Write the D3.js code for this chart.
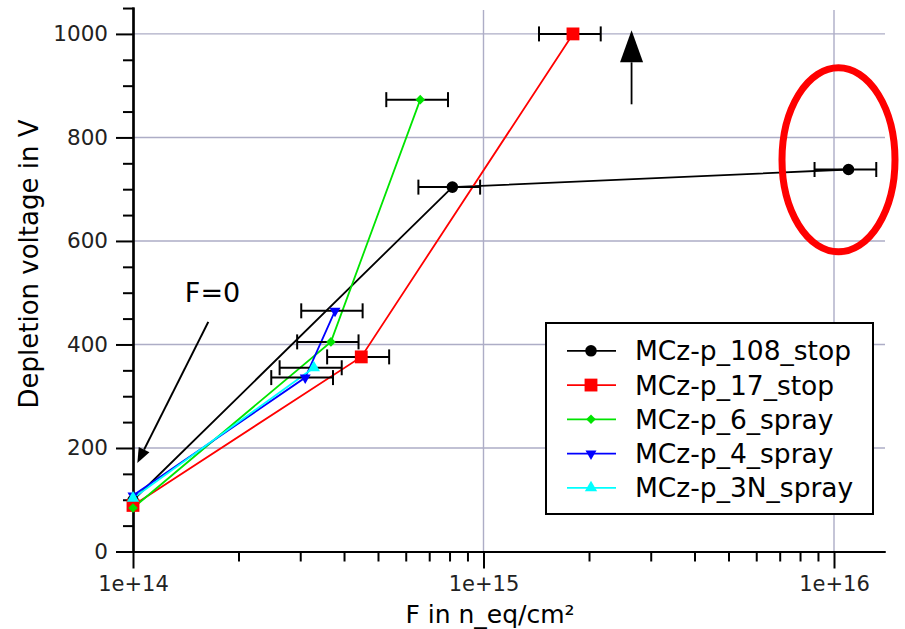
<!DOCTYPE html>
<html>
<head>
<meta charset="utf-8">
<script src="https://cdn.jsdelivr.net/npm/d3@7"></script>
<style>
  html, body { margin: 0; padding: 0; background: #fff; }
  svg { display: block; }
  text { font-family: "DejaVu Sans", Verdana, sans-serif; }
</style>
</head>
<body>
<svg id="chart" width="905" height="629"></svg>
<script>
// Depletion voltage vs. fluence for MCz-p diodes (F = 0 plotted at 1e14)
const seriesNames = ["MCz-p_108_stop", "MCz-p_17_stop", "MCz-p_6_spray", "MCz-p_4_spray", "MCz-p_3N_spray"];
const seriesColors = ["#000000", "#ff0000", "#00e400", "#0000ff", "#00ffff"];
const seriesSymbols = ["circle", "square", "diamond", "triangleDown", "triangleUp"];

const fluence108 = [1e14, 8.15e14, 1.1e16];
const voltage108 = [99, 704, 738];
const fluenceErr108 = [0, 1.63e14, 2.2e15];

const fluence17 = [1e14, 4.48e14, 1.8e15];
const voltage17 = [89, 376, 1000];
const fluenceErr17 = [0, 0.9e14, 3.6e14];

const fluence6 = [1e14, 3.67e14, 6.6e14];
const voltage6 = [84, 405, 873];
const fluenceErr6 = [0, 0.73e14, 1.32e14];

const fluence4 = [1e14, 3.1e14, 3.77e14];
const voltage4 = [108, 336, 465];
const fluenceErr4 = [0, 0.62e14, 0.75e14];

const fluence3N = [1e14, 3.28e14];
const voltage3N = [103, 355];
const fluenceErr3N = [0, 0.66e14];

const xMajorTicks = [1e14, 1e15, 1e16];
const xTickLabels = ["1e+14", "1e+15", "1e+16"];
const yMajorTicks = [0, 200, 400, 600, 800, 1000];
const yGridValues = [200, 400, 600, 800, 1000];

const xTitle = "F in n_eq/cm²";
const yTitle = "Depletion voltage in V";

const series = [
  { f: fluence108, v: voltage108, e: fluenceErr108 },
  { f: fluence17, v: voltage17, e: fluenceErr17 },
  { f: fluence6, v: voltage6, e: fluenceErr6 },
  { f: fluence4, v: voltage4, e: fluenceErr4 },
  { f: fluence3N, v: voltage3N, e: fluenceErr3N }
].map((s, i) => ({
  name: seriesNames[i], color: seriesColors[i], symbol: seriesSymbols[i],
  points: s.f.map((f, j) => ({ f, v: s.v[j], e: s.e[j] }))
}));

const svg = d3.select("#chart");

const x = d3.scaleLog().domain([1e14, 1.398e16]).range([133, 885]);
const y = d3.scaleLinear().domain([0, 1052]).range([551.5, 7]);

// grid
const grid = svg.append("g");
grid.selectAll("line.h").data(yGridValues).join("line")
  .attr("x1", x.range()[0]).attr("x2", x.range()[1])
  .attr("y1", d => y(d)).attr("y2", d => y(d))
  .attr("stroke", "#adadc6").attr("stroke-width", 1.4);
grid.selectAll("line.v").data(xMajorTicks.slice(1)).join("line")
  .attr("x1", d => x(d)).attr("x2", d => x(d))
  .attr("y1", y.range()[0]).attr("y2", 10)
  .attr("stroke", "#adadc6").attr("stroke-width", 1.4);

// minor tick positions
const xMinor = [];
[1e14, 1e15, 1e16].forEach(dec => { for (let k = 2; k <= 9; k++) { const v = dec * k; if (v < x.domain()[1]) xMinor.push(v); } });
const yMinor = d3.range(50, 1052, 50).filter(v => v % 200 !== 0);

function styleAxis(g) {
  g.selectAll("path.domain").attr("stroke", "#000").attr("stroke-width", 2.2);
  g.selectAll(".tick line").attr("stroke", "#000").attr("stroke-width", 2);
  g.selectAll("text").attr("fill", "#222");
}

const xAxisMinor = svg.append("g").attr("transform", `translate(0,${y(0)})`)
  .call(d3.axisBottom(x).tickValues(xMinor).tickSize(10).tickSizeOuter(0).tickFormat(""));
styleAxis(xAxisMinor);
const xAxisMajor = svg.append("g").attr("transform", `translate(0,${y(0)})`)
  .call(d3.axisBottom(x).tickValues(xMajorTicks).tickSize(17).tickSizeOuter(0)
    .tickFormat((d, i) => xTickLabels[i]).tickPadding(7));
styleAxis(xAxisMajor);
xAxisMajor.selectAll("text").attr("font-size", 21).attr("dy", "0.75em");

const yAxisMinor = svg.append("g").attr("transform", `translate(${x(1e14)},0)`)
  .call(d3.axisLeft(y).tickValues(yMinor).tickSize(10).tickSizeOuter(0).tickFormat(""));
styleAxis(yAxisMinor);
const yAxisMajor = svg.append("g").attr("transform", `translate(${x(1e14)},0)`)
  .call(d3.axisLeft(y).tickValues(yMajorTicks).tickSize(17).tickSizeOuter(0)
    .tickFormat(d3.format("d")).tickPadding(8));
styleAxis(yAxisMajor);
yAxisMajor.selectAll("text").attr("font-size", 21.5);

// axis titles
svg.append("text").attr("x", 490).attr("y", 623).attr("text-anchor", "middle")
  .attr("font-size", 25).attr("fill", "#000").text(xTitle);
svg.append("text").attr("transform", "translate(38,264) rotate(-90)").attr("text-anchor", "middle")
  .attr("font-size", 26).attr("fill", "#000").text(yTitle);

// marker shapes
const diamondType = { draw(ctx, size) { const r = Math.sqrt(size) * 0.62; ctx.moveTo(0, -r); ctx.lineTo(r, 0); ctx.lineTo(0, r); ctx.lineTo(-r, 0); ctx.closePath(); } };
const triDownType = { draw(ctx, size) { const h = Math.sqrt(size / (3 * Math.sqrt(3))); ctx.moveTo(0, 2 * h); ctx.lineTo(-Math.sqrt(3) * h, -h); ctx.lineTo(Math.sqrt(3) * h, -h); ctx.closePath(); } };
const symbolTypes = { circle: d3.symbolCircle, square: d3.symbolSquare, diamond: diamondType, triangleDown: triDownType, triangleUp: d3.symbolTriangle };
const symbolSizes = { circle: 105, square: 165, diamond: 60, triangleDown: 52, triangleUp: 66 };
const symbolPath = s => d3.symbol().type(symbolTypes[s]).size(symbolSizes[s])();

const line = d3.line().x(d => x(d.f)).y(d => y(d.v));
const plot = svg.append("g");

series.forEach(s => {
  plot.append("path").datum(s.points).attr("d", line)
    .attr("fill", "none").attr("stroke", s.color).attr("stroke-width", 1.8);
});

// horizontal error bars on fluence
series.forEach(s => {
  const withErr = s.points.filter(p => p.e > 0);
  const eb = plot.append("g").attr("stroke", "#000").attr("stroke-width", 2);
  withErr.forEach(p => {
    const x0 = x(p.f - p.e), x1 = x(p.f + p.e), yy = y(p.v);
    eb.append("line").attr("x1", x0).attr("x2", x1).attr("y1", yy).attr("y2", yy);
    eb.append("line").attr("x1", x0).attr("x2", x0).attr("y1", yy - 7.5).attr("y2", yy + 7.5);
    eb.append("line").attr("x1", x1).attr("x2", x1).attr("y1", yy - 7.5).attr("y2", yy + 7.5);
  });
});

series.forEach(s => {
  plot.selectAll(null).data(s.points).join("path")
    .attr("d", symbolPath(s.symbol))
    .attr("transform", d => `translate(${x(d.f)},${y(d.v)})`)
    .attr("fill", s.color);
});

// annotations
const ann = svg.append("g");
// F = 0 label and arrow towards the unirradiated points
ann.append("text").attr("x", x(1.406e14)).attr("y", y(481.7))
  .attr("font-size", 27).attr("fill", "#000").text("F=0");
function arrow(g, x0, y0, x1, y1, len, halfW, width) {
  const dx = x1 - x0, dy = y1 - y0, L = Math.hypot(dx, dy), ux = dx / L, uy = dy / L;
  const bx = x1 - ux * len, by = y1 - uy * len;
  g.append("line").attr("x1", x0).attr("y1", y0).attr("x2", bx).attr("y2", by)
    .attr("stroke", "#000").attr("stroke-width", width);
  g.append("path")
    .attr("d", `M${x1},${y1}L${bx - uy * halfW},${by + ux * halfW}L${bx + uy * halfW},${by - ux * halfW}Z`)
    .attr("fill", "#000");
}
arrow(ann, x(1.64e14), y(443.6), x(1.029e14), y(171), 15, 6, 2);
arrow(ann, x(2.645e15), y(864), x(2.645e15), y(1007), 32, 11.5, 1.8);

// highlight around the highest-fluence point
ann.append("ellipse").attr("cx", x(1.03e16)).attr("cy", y(756.8))
  .attr("rx", 56.5).attr("ry", 92)
  .attr("fill", "none").attr("stroke", "#ff0000").attr("stroke-width", 7);

// legend
const legend = svg.append("g");
legend.append("rect").attr("x", 546).attr("y", 323).attr("width", 327).attr("height", 191)
  .attr("fill", "#fff").attr("stroke", "#000").attr("stroke-width", 2);
series.forEach((s, i) => {
  const cy = 350.8 + i * 34.25;
  legend.append("line").attr("x1", 567).attr("x2", 616).attr("y1", cy).attr("y2", cy)
    .attr("stroke", s.color).attr("stroke-width", 1.8);
  legend.append("path").attr("d", symbolPath(s.symbol))
    .attr("transform", `translate(591,${cy})`).attr("fill", s.color);
  legend.append("text").attr("x", 635).attr("y", cy).attr("dy", "0.36em")
    .attr("font-size", 26.5).attr("fill", "#000").text(s.name);
});
</script>
</body>
</html>
